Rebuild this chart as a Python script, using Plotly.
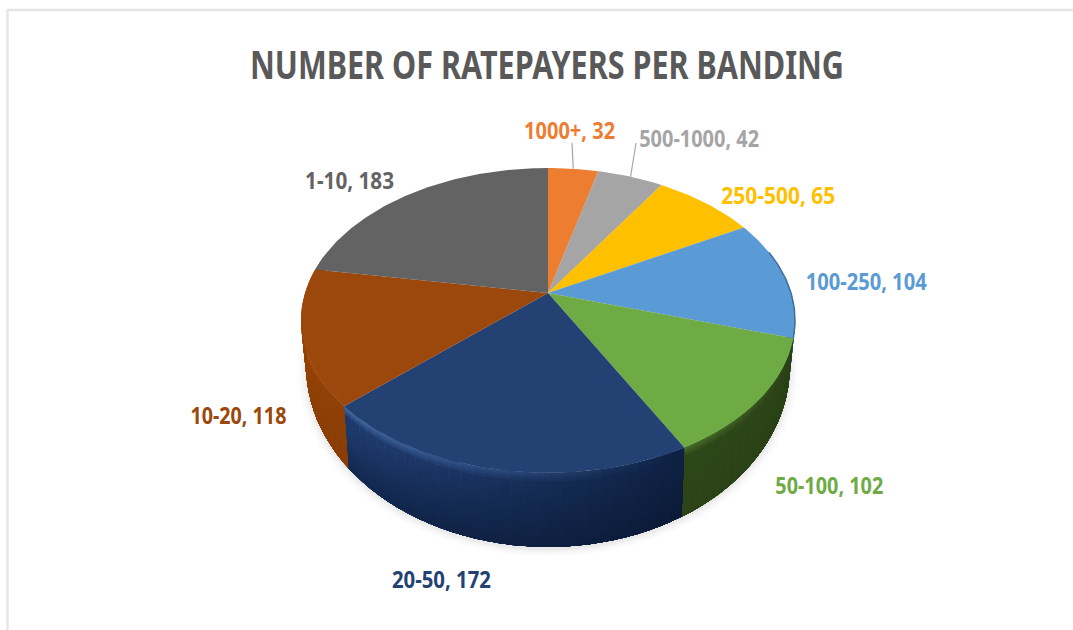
import json
import numpy as np
import plotly.graph_objects as go

W, H = 1073, 630
TITLE = "NUMBER OF RATEPAYERS PER BANDING"

# Slices, clockwise from twelve o'clock
categories = ["1000+", "500-1000", "250-500", "100-250", "50-100", "20-50", "10-20", "1-10"]
values = [32, 42, 65, 104, 102, 172, 118, 183]
face_colors = ["#ED7D31", "#A5A5A5", "#FFC000", "#5B9BD5", "#6FAB45", "#244174", "#9C470C", "#636363"]
wall_light = ["#B05A20", "#7A7A7A", "#BF9000", "#3A5F88", "#2E4719", "#1E3A6C", "#9A4607", "#4A4A4A"]
wall_dark = ["#8A4518", "#5F5F5F", "#8F6C00", "#2C4A6E", "#2A4117", "#0B1A36", "#8A3E06", "#3A3A3A"]
bevel_colors = ["#F29A5C", "#BDBDBD", "#FFD24D", "#3F6E9E", "#456B2A", "#3F669F", "#CC5E12", "#777777"]

# Data label placement and drawn width, in pixels
label_xy = [(569.5, 129), (699, 137), (778, 194), (866.5, 280), (829, 484), (441.5, 578), (238, 414), (349.5, 179)]
label_widths = [91, 120, 114, 121, 108, 99, 96, 89]
title_width = 594

# Projection of the tilted disc
CX, CY = 548, 293
A, B, K = 243, 147.5, 0.18
A_LOW, B_LOW, DROP = 238, 175.7, 39.7


def top_point(theta):
    u, v = np.sin(theta), np.cos(theta)
    d = 1 + K * v
    return CX + A * u / d, CY - B * v / d


def bottom_point(theta):
    u, v = np.sin(theta), np.cos(theta)
    d = 1 + K * v
    return CX + A_LOW * u / d, CY + DROP - B_LOW * v / d


def wall_point(theta, f):
    xt, yt = top_point(theta)
    xb, yb = bottom_point(theta)
    return xt + (xb - xt) * f, yt + (yb - yt) * f


def rgb(hex_color):
    return np.array([int(hex_color[i:i + 2], 16) for i in (1, 3, 5)], dtype=float)


def mix(c1, c2, t):
    r = rgb(c1) * (1 - t) + rgb(c2) * t
    return "rgb(%d,%d,%d)" % tuple(r)


def add_poly(fig, xs, ys, color):
    fig.add_trace(go.Scatter(
        x=xs, y=ys, mode="lines", fill="toself", fillcolor=color,
        line=dict(color=color, width=0), hoverinfo="skip", showlegend=False,
    ))


fig = go.Figure()

# Soft shadow under the disc
ring = np.linspace(0, 2 * np.pi, 180)
for grow, alpha in [(1.035, 0.018), (1.025, 0.025), (1.015, 0.035), (1.006, 0.05)]:
    bx, by = bottom_point(ring)
    add_poly(fig, CX + (bx - CX) * grow, CY + 40 + (by - CY - 40) * grow + 2,
             "rgba(90,90,90,%.3f)" % alpha)

total = sum(values)
edges = np.concatenate([[0], np.cumsum(values)]) / total * 2 * np.pi

# Side wall: overlapping strips painted in order, so the shading runs without seams
wall_from, wall_to = np.radians(85), np.radians(285)
layer_tops = np.r_[0.0, 0.04, 0.08, np.linspace(0.12, 0.94, 11)]
for i in range(len(values)):
    a0, a1 = max(edges[i], wall_from), min(edges[i + 1], wall_to)
    if a1 <= a0:
        continue
    steps = max(2, int(np.degrees(a1 - a0) / 2.5))
    grid = np.linspace(a0, a1, steps + 1)
    for s in range(steps):
        shade = (s + 0.5) / steps
        stop = grid[min(s + 2, steps)]
        fine = np.linspace(grid[s], stop, 4)
        xb, yb = wall_point(fine, 1.0)
        for n, f in enumerate(layer_tops):
            base = mix(wall_dark[i], wall_light[i], min(1.0, shade * (1 - 0.55 * f) + 0.25 * (1 - f)))
            if n < 3:
                # rim highlight, brightest where the wall faces the light
                glow = shade ** 1.3 * (1 - n / 3)
                base_rgb = "#%02x%02x%02x" % tuple(int(c) for c in base[4:-1].split(","))
                color = mix(base_rgb, bevel_colors[i], glow)
            else:
                color = base
            xt, yt = wall_point(fine, f)
            add_poly(fig, np.r_[xt, xb[::-1]], np.r_[yt, yb[::-1]], color)

# Top faces
for i in range(len(values)):
    arc = np.linspace(edges[i], edges[i + 1], max(8, int(np.degrees(edges[i + 1] - edges[i]))))
    ax, ay = top_point(arc)
    add_poly(fig, np.r_[CX, ax, CX], np.r_[CY, ay, CY], face_colors[i])

# Thin darker rim on the far right of the top face
rim = np.linspace(edges[3] + np.radians(12), edges[4], 30)
rx, ry = top_point(rim)
fig.add_trace(go.Scatter(x=rx, y=ry, mode="lines", line=dict(color="#3F6E9E", width=1.5),
                         hoverinfo="skip", showlegend=False))

# Leader lines for the two smallest slices
for i, (lx, ly) in zip([0, 1], [(572, 143), (636, 143)]):
    mid = (edges[i] + edges[i + 1]) / 2
    ex, ey = top_point(mid)
    fig.add_trace(go.Scatter(x=[lx, ex], y=[ly, ey], mode="lines",
                             line=dict(color="#A6A6A6", width=1.2),
                             hoverinfo="skip", showlegend=False))

FONT = "Noto Sans, sans-serif"
annotations = [dict(x=547, y=63, text=TITLE, showarrow=False,
                    font=dict(family=FONT, size=40, color="#595959", weight="bold"))]
for cat, val, col, (lx, ly) in zip(categories, values, face_colors, label_xy):
    annotations.append(dict(x=lx, y=ly, text=f"{cat}, {val}", showarrow=False,
                            font=dict(family=FONT, size=24, color=col, weight="bold")))

fig.update_layout(
    width=W, height=H, margin=dict(l=0, r=0, t=0, b=0),
    paper_bgcolor="white", plot_bgcolor="white", showlegend=False,
    xaxis=dict(range=[0, W], visible=False, fixedrange=True),
    yaxis=dict(range=[H, 0], visible=False, fixedrange=True),
    annotations=annotations,
    shapes=[dict(type="rect", x0=7.5, y0=10, x1=1090, y1=650,
                 line=dict(color="#E6E6E6", width=2.5), layer="below")],
)

# Calibri-style condensed lettering: squeeze each text run to its set width
widths = json.dumps([title_width] + label_widths)
squeeze = """
var widths = %s;
document.querySelectorAll('text.annotation-text').forEach(function (t, i) {
  t.setAttribute('textLength', widths[i]);
  t.setAttribute('lengthAdjust', 'spacingAndGlyphs');
});
""" % widths

fig.write_html("out.html", config=dict(displayModeBar=False), post_script=squeeze)
